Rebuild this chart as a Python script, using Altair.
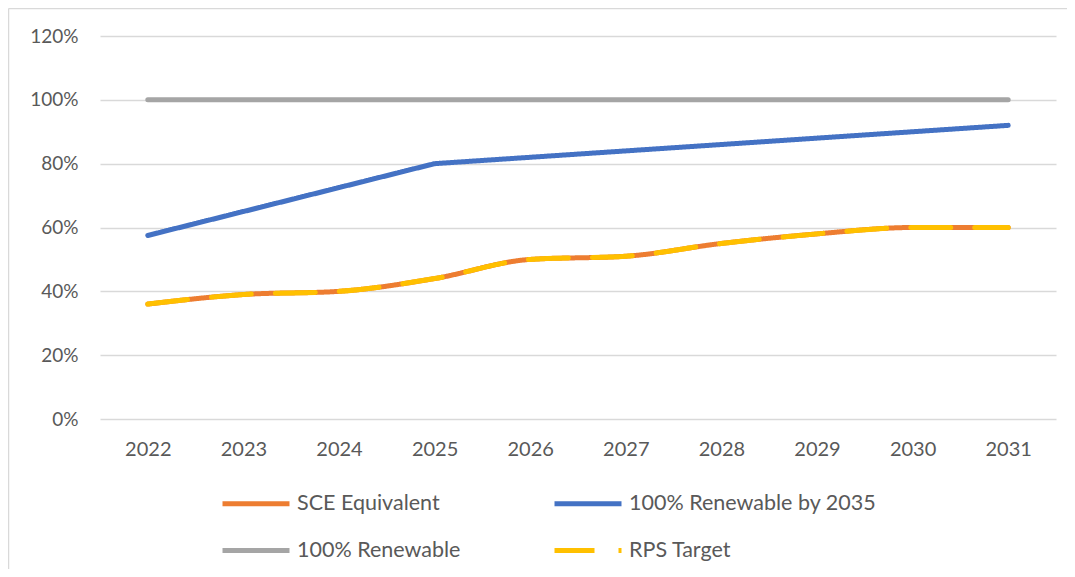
import altair as alt
import pandas as pd

years = [str(y) for y in range(2022, 2032)]
sce_equivalent = [0.36, 0.39, 0.40, 0.44, 0.50, 0.51, 0.55, 0.58, 0.60, 0.60]
renewable_by_2035 = [0.575, 0.65, 0.725, 0.80, 0.82, 0.84, 0.86, 0.88, 0.90, 0.92]
renewable_100 = [1.0, 1.0, 1.0, 1.0, 1.0, 1.0, 1.0, 1.0, 1.0, 1.0]
rps_target = [0.36, 0.39, 0.40, 0.44, 0.50, 0.51, 0.55, 0.58, 0.60, 0.60]

series_names = ["SCE Equivalent", "100% Renewable by 2035", "100% Renewable", "RPS Target"]
series_colors = ["#ED7D31", "#4472C4", "#A5A5A5", "#FFC000"]
series_dashes = [[1, 0], [1, 0], [1, 0], [40, 24]]

rows = []
for name, vals in zip(series_names, [sce_equivalent, renewable_by_2035, renewable_100, rps_target]):
    for y, v in zip(years, vals):
        rows.append({"year": y, "value": v, "series": name})
df = pd.DataFrame(rows)

FONT = "Lato"
TXT = "#595959"

x_enc = alt.X("year:N", sort=years,
              scale=alt.Scale(type="point", padding=0.5),
              axis=alt.Axis(title=None, labelAngle=0, ticks=False, domain=False,
                            grid=False, labelPadding=20, labelFontSize=20,
                            labelFont=FONT, labelColor=TXT))
y_enc = alt.Y("value:Q", scale=alt.Scale(domain=[0, 1.2], nice=False),
              axis=alt.Axis(title=None, format=".0%", values=[0, 0.2, 0.4, 0.6, 0.8, 1.0, 1.2],
                            ticks=False, domain=False, gridColor="#D9D9D9", gridWidth=1.5,
                            labelPadding=22, labelFontSize=19, labelFont=FONT,
                            labelColor=TXT))
color_enc = alt.Color("series:N",
                      scale=alt.Scale(domain=series_names, range=series_colors),
                      legend=alt.Legend(title=None, orient="none", legendX=120, legendY=431.5,
                                        columns=2, direction="horizontal",
                                        symbolType="stroke", symbolSize=4489,
                                        symbolStrokeWidth=5, labelFont=FONT,
                                        labelFontSize=21.5, labelColor=TXT, labelOffset=5,
                                        labelLimit=400,
                                        columnPadding=83, rowPadding=-26, padding=0))
dash_enc = alt.StrokeDash("series:N",
                          scale=alt.Scale(domain=series_names, range=series_dashes),
                          legend=None)

base = alt.Chart(df).encode(x=x_enc, y=y_enc, color=color_enc, strokeDash=dash_enc)

straight = base.transform_filter(
    alt.FieldOneOfPredicate(field="series", oneOf=["100% Renewable", "100% Renewable by 2035"])
).mark_line(strokeWidth=5, strokeCap="round", strokeJoin="round")

orange = base.transform_filter(
    alt.FieldEqualPredicate(field="series", equal="SCE Equivalent")
).mark_line(strokeWidth=5, strokeCap="round", interpolate="monotone")

yellow = base.transform_filter(
    alt.FieldEqualPredicate(field="series", equal="RPS Target")
).mark_line(strokeWidth=5, strokeCap="round", interpolate="monotone")

one = pd.DataFrame({"a": [0]})
border_v = alt.Chart(one).mark_rule(color="#D9D9D9", strokeWidth=1.5).encode(
    x=alt.value(-91.5), y=alt.value(-27.5), y2=alt.value(540))
border_h = alt.Chart(one).mark_rule(color="#D9D9D9", strokeWidth=1.5).encode(
    y=alt.value(-27.5), x=alt.value(-91.5), x2=alt.value(980))

chart = alt.layer(border_v, border_h, straight, orange, yellow).properties(
    width=956, height=383,
    autosize=alt.AutoSizeParams(type="none"),
    padding={"left": 92, "top": 28, "right": 11, "bottom": 150},
    background="white",
).configure_view(stroke=None)

chart.save("out.html", embed_options={"renderer": "svg", "actions": False})
